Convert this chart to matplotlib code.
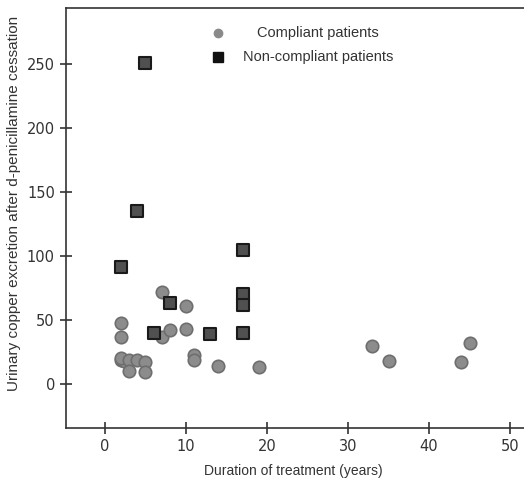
import matplotlib
matplotlib.use("Agg")
import matplotlib.pyplot as plt

# compliant patients (years of treatment, urinary copper)
comp_years = [2, 2, 2, 2.3, 2, 3, 3, 4, 5, 5, 7, 7, 8, 10, 10, 11, 11, 14, 19, 33, 35, 44, 45]
comp_copper = [48, 37, 19, 18, 20, 19, 10, 19, 17, 9, 72, 37, 42, 61, 43, 23, 19, 14, 13, 30, 18, 17, 32]

# non-compliant patients
nonc_years = [5, 4, 2, 8, 6, 13, 17, 17, 17, 17]
nonc_copper = [251, 135, 91, 63, 40, 39, 105, 70, 62, 40]

x_ticks = [0, 10, 20, 30, 40, 50]
y_ticks = [0, 50, 100, 150, 200, 250]

fig = plt.figure(figsize=(5.24, 4.8), dpi=100)
# axes run off the right edge, like the reference
ax = fig.add_axes([0.126, 0.108, 0.9, 0.875])

ax.scatter(comp_years, comp_copper, s=80, marker="o", color="#8c8c8c",
           edgecolor="#6e6e6e", linewidth=1.2, zorder=3)
ax.scatter(nonc_years, nonc_copper, s=85, marker="s", color="#505050",
           edgecolor="#1a1a1a", linewidth=1.5, zorder=4)

ax.set_xlim(-4.8, 53.4)
ax.set_ylim(-34.5, 293.5)
ax.set_xticks(x_ticks)
ax.set_yticks(y_ticks)

ax.spines["right"].set_visible(False)
for s in ["left", "bottom", "top"]:
    ax.spines[s].set_linewidth(1.2)
    ax.spines[s].set_color("#333333")
ax.tick_params(direction="inout", length=9, width=1.1, color="#222222",
               labelsize=10.5, labelcolor="#333333")

ax.set_xlabel("Duration of treatment (years)", fontsize=10, color="#333333",
              family="Liberation Sans")
ax.xaxis.set_label_coords(0.483, -0.086)
ax.set_ylabel("Urinary copper excretion after d-penicillamine cessation",
              fontsize=11, color="#333333", family="Liberation Sans")
ax.yaxis.set_label_coords(-0.095, 0.536)

# 图例（手动绘制，文字居中）
legend_items = [("o", "#8a8a8a", 6, "Compliant patients", 0.940),
                ("s", "#111111", 7, "Non-compliant patients", 0.883)]
for mk, col, ms, label, yy in legend_items:
    ax.plot([0.322], [yy], marker=mk, markersize=ms, color=col, linestyle="none",
            transform=ax.transAxes, clip_on=False)
    ax.text(0.534, yy, label, ha="center", va="center", fontsize=10.5,
            color="#333333", family="Liberation Sans", transform=ax.transAxes)

fig.savefig("out.png", dpi=100)
